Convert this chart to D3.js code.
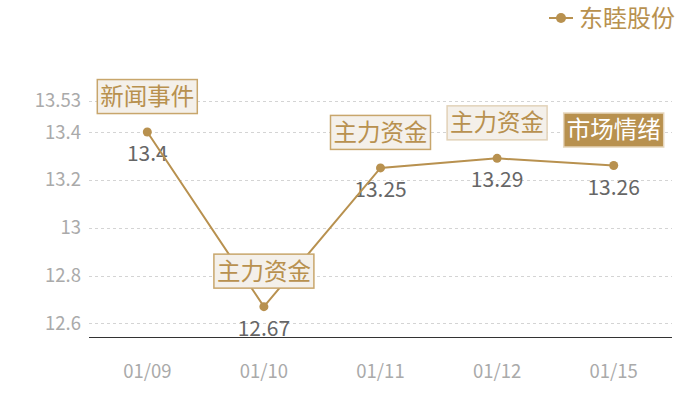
<!DOCTYPE html>
<html><head><meta charset="utf-8">
<script src="https://cdn.jsdelivr.net/npm/d3@7"></script>
<style>body{margin:0;background:#fff}svg{display:block}text{font-family:"Noto Sans CJK SC","Noto Sans",sans-serif}</style>
</head><body>
<svg id="c" width="700" height="400"></svg>
<script>
const dates = ["01/09","01/10","01/11","01/12","01/15"];
const prices = [13.4, 12.67, 13.25, 13.29, 13.26];
const yTicks = [12.6, 12.8, 13, 13.2, 13.4, 13.53];
const yTickLabels = ["12.6","12.8","13","13.2","13.4","13.53"];
const notes = ["新闻事件","主力资金","主力资金","主力资金","市场情绪"];
const noteHighlight = [false,false,false,false,true];
const seriesName = "东睦股份";
const yMin = 12.543, yMax = 13.534;

const gold = "#b8914f";
const svg = d3.select("#c");
const x = d3.scaleBand().domain(dates).range([89, 672]);
const cx = d => x(d) + x.bandwidth()/2;
const y = d3.scaleLinear().domain([yMin, yMax]).range([337, 100]);

// grid
svg.append("g").selectAll("line").data(yTicks).join("line")
  .attr("x1", 89).attr("x2", 672)
  .attr("y1", d => Math.round(y(d)) + 0.5).attr("y2", d => Math.round(y(d)) + 0.5)
  .attr("stroke", "#d4d4d4").attr("stroke-dasharray", "3,3");

// y labels
svg.append("g").selectAll("text").data(yTicks).join("text")
  .attr("x", 81).attr("y", d => y(d)).attr("dy", "0.35em")
  .attr("text-anchor", "end").attr("font-size", 18.5).attr("fill", "#aaaaaa")
  .text((d,i) => yTickLabels[i]);

// x axis
svg.append("line").attr("x1", 89).attr("x2", 672).attr("y1", 337.5).attr("y2", 337.5)
  .attr("stroke", "#333").attr("stroke-width", 1);
svg.append("g").selectAll("text").data(dates).join("text")
  .attr("x", d => cx(d)).attr("y", 378).attr("text-anchor", "middle")
  .attr("font-size", 18.5).attr("fill", "#aaaaaa").text(d => d);

const pts = dates.map((d,i) => ({d, v: prices[i], note: notes[i], hi: noteHighlight[i]}));

// value labels
svg.append("g").selectAll("text").data(pts).join("text")
  .attr("x", p => cx(p.d)).attr("y", p => y(p.v) + 29).attr("text-anchor", "middle")
  .attr("font-size", 21).attr("fill", "#666").text(p => String(p.v));

// line
svg.append("path").datum(pts)
  .attr("d", d3.line().x(p => cx(p.d)).y(p => y(p.v)))
  .attr("fill", "none").attr("stroke", gold).attr("stroke-width", 2);

svg.append("g").selectAll("circle").data(pts).join("circle")
  .attr("cx", p => cx(p.d)).attr("cy", p => y(p.v)).attr("r", 4.5).attr("fill", gold);

// note boxes
const bw = 101, bh = 35;
const ng = svg.append("g").selectAll("g").data(pts).join("g")
  .attr("transform", p => `translate(${cx(p.d) - bw/2},${y(p.v) - 18 - bh})`);
ng.append("rect").attr("x", 0.5).attr("y", 0.5).attr("width", bw-1).attr("height", bh-1)
  .attr("fill", p => p.hi ? gold : "#f4f0ea")
  .attr("stroke", (p,i) => p.hi ? "#e6d6bc" : (i === 3 ? "#e2d2b8" : "#c8a66c"))
  .attr("stroke-width", 1.5);
ng.append("text").attr("x", bw/2).attr("y", bh/2).attr("dy", "0.36em")
  .attr("text-anchor", "middle").attr("font-size", 23.5)
  .attr("fill", p => p.hi ? "#fff" : gold).text(p => p.note);

// legend
const lg = svg.append("g");
lg.append("line").attr("x1", 549).attr("x2", 573).attr("y1", 18).attr("y2", 18)
  .attr("stroke", gold).attr("stroke-width", 2);
lg.append("circle").attr("cx", 561).attr("cy", 18).attr("r", 5).attr("fill", gold);
lg.append("text").attr("x", 579).attr("y", 18).attr("dy", "0.36em")
  .attr("font-size", 24).attr("fill", gold).text(seriesName);
</script>
</body></html>
